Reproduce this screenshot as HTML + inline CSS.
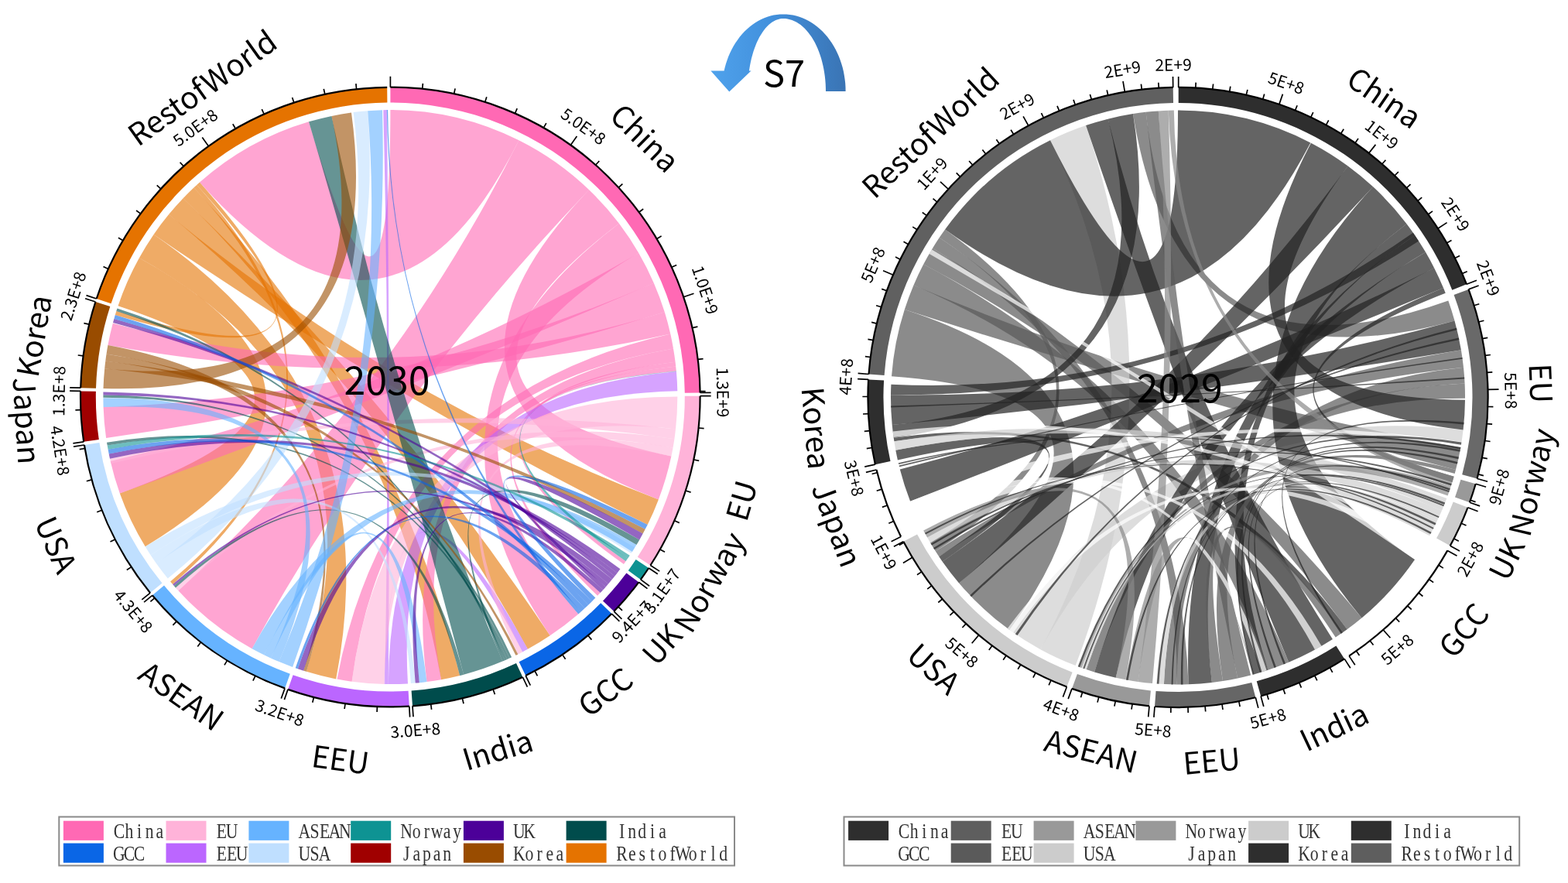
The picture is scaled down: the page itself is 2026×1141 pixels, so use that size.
<!DOCTYPE html>
<html><head><meta charset="utf-8"><style>
html,body{margin:0;padding:0;background:#fff;}
body{width:2026px;height:1141px;overflow:hidden;}
svg{display:block;filter:blur(0.5px);}
.lab,.tl{font-family:"Noto Sans CJK SC","Liberation Sans",sans-serif;fill:#000;}
.leg{font-family:"Liberation Serif","Noto Serif CJK SC",serif;fill:#333;}
</style></head><body>
<svg width="2026" height="1141" viewBox="0 0 2026 1141">
<path d="M152.5,395.3A371,371 0 0 1 179.9,333.2Q504.4,513.0 187.7,706.3A371,371 0 0 1 154.8,637.5Q504.4,513.0 152.5,395.3Z" fill="#E57300" fill-opacity="0.6"/>
<path d="M179.9,333.2A371,371 0 0 1 198.6,302.9Q504.4,513.0 434.2,877.4A371,371 0 0 1 395.9,867.8Q504.4,513.0 179.9,333.2Z" fill="#E57300" fill-opacity="0.6"/>
<path d="M198.6,302.9A371,371 0 0 1 218.1,277.1Q504.4,513.0 850.9,645.4A371,371 0 0 1 836.7,678.0Q504.4,513.0 198.6,302.9Z" fill="#E57300" fill-opacity="0.6"/>
<path d="M218.1,277.1A371,371 0 0 1 236.6,256.3Q504.4,513.0 710.7,821.3A371,371 0 0 1 681.9,838.8Q504.4,513.0 218.1,277.1Z" fill="#E57300" fill-opacity="0.6"/>
<path d="M236.6,256.3A371,371 0 0 1 250.4,242.6Q504.4,513.0 594.1,873.0A371,371 0 0 1 570.0,878.2Q504.4,513.0 236.6,256.3Z" fill="#E57300" fill-opacity="0.6"/>
<path d="M250.4,242.6A371,371 0 0 1 254.2,239.1Q504.4,513.0 223.1,755.0A371,371 0 0 1 220.1,751.5Q504.4,513.0 250.4,242.6Z" fill="#E57300" fill-opacity="0.6"/>
<path d="M254.2,239.1A371,371 0 0 1 258.0,235.6Q504.4,513.0 148.8,407.1A371,371 0 0 1 150.3,402.1Q504.4,513.0 254.2,239.1Z" fill="#E57300" fill-opacity="0.6"/>
<path d="M504.4,142.0A371,371 0 0 1 670.5,181.3Q504.4,513.0 258.0,235.6A371,371 0 0 1 399.0,157.3Q504.4,513.0 504.4,142.0Z" fill="#FF69B4" fill-opacity="0.6"/>
<path d="M670.5,181.3A371,371 0 0 1 761.1,245.3Q504.4,513.0 325.6,838.2A371,371 0 0 1 230.4,763.2Q504.4,513.0 670.5,181.3Z" fill="#FF69B4" fill-opacity="0.6"/>
<path d="M761.1,245.3A371,371 0 0 1 799.9,288.7Q504.4,513.0 867.4,589.6A371,371 0 0 1 850.9,645.4Q504.4,513.0 761.1,245.3Z" fill="#FF69B4" fill-opacity="0.6"/>
<path d="M799.9,288.7A371,371 0 0 1 825.3,327.0Q504.4,513.0 747.3,793.5A371,371 0 0 1 710.7,821.3Q504.4,513.0 799.9,288.7Z" fill="#FF69B4" fill-opacity="0.6"/>
<path d="M825.3,327.0A371,371 0 0 1 844.8,365.7Q504.4,513.0 154.8,637.5A371,371 0 0 1 142.7,595.9Q504.4,513.0 825.3,327.0Z" fill="#FF69B4" fill-opacity="0.6"/>
<path d="M844.8,365.7A371,371 0 0 1 858.8,403.3Q504.4,513.0 137.1,566.0A371,371 0 0 1 133.6,526.0Q504.4,513.0 844.8,365.7Z" fill="#FF69B4" fill-opacity="0.6"/>
<path d="M858.8,403.3A371,371 0 0 1 866.3,431.5Q504.4,513.0 139.4,446.1A371,371 0 0 1 145.8,417.7Q504.4,513.0 858.8,403.3Z" fill="#FF69B4" fill-opacity="0.6"/>
<path d="M866.3,431.5A371,371 0 0 1 870.0,450.5Q504.4,513.0 454.6,880.7A371,371 0 0 1 435.5,877.6Q504.4,513.0 866.3,431.5Z" fill="#FF69B4" fill-opacity="0.6"/>
<path d="M870.0,450.5A371,371 0 0 1 872.6,467.8Q504.4,513.0 570.0,878.2A371,371 0 0 1 551.5,881.0Q504.4,513.0 870.0,450.5Z" fill="#FF69B4" fill-opacity="0.6"/>
<path d="M872.6,467.8A371,371 0 0 1 873.2,473.6Q504.4,513.0 775.7,766.1A371,371 0 0 1 772.1,769.8Q504.4,513.0 872.6,467.8Z" fill="#FF69B4" fill-opacity="0.6"/>
<path d="M873.2,473.6A371,371 0 0 1 873.8,479.4Q504.4,513.0 808.6,725.3A371,371 0 0 1 806.0,729.0Q504.4,513.0 873.2,473.6Z" fill="#FF69B4" fill-opacity="0.6"/>
<path d="M527.0,883.4A371,371 0 0 1 501.8,884.0Q504.4,513.0 873.9,480.1A371,371 0 0 1 875.3,505.3Q504.4,513.0 527.0,883.4Z" fill="#BB66FF" fill-opacity="0.6"/>
<path d="M501.8,884.0A371,371 0 0 1 497.2,884.0Q504.4,513.0 495.3,142.2A371,371 0 0 1 499.8,142.1Q504.4,513.0 501.8,884.0Z" fill="#BB66FF" fill-opacity="0.6"/>
<path d="M497.2,884.0A371,371 0 0 1 496.6,884.0Q504.4,513.0 681.9,838.8A371,371 0 0 1 675.1,842.4Q504.4,513.0 497.2,884.0Z" fill="#BB66FF" fill-opacity="0.6"/>
<path d="M875.3,512.4A371,371 0 0 1 873.0,554.4Q504.4,513.0 496.6,884.0A371,371 0 0 1 454.6,880.7Q504.4,513.0 875.3,512.4Z" fill="#FFB3D9" fill-opacity="0.6"/>
<path d="M873.0,554.4A371,371 0 0 1 871.4,567.2Q504.4,513.0 143.5,599.0A371,371 0 0 1 142.0,592.7Q504.4,513.0 873.0,554.4Z" fill="#FFB3D9" fill-opacity="0.6"/>
<path d="M871.4,567.2A371,371 0 0 1 869.5,578.7Q504.4,513.0 230.4,763.2A371,371 0 0 1 226.9,759.4Q504.4,513.0 871.4,567.2Z" fill="#FFB3D9" fill-opacity="0.6"/>
<path d="M869.5,578.7A371,371 0 0 1 867.4,589.6Q504.4,513.0 675.1,842.4A371,371 0 0 1 669.3,845.4Q504.4,513.0 869.5,578.7Z" fill="#FFB3D9" fill-opacity="0.6"/>
<path d="M649.3,854.6A371,371 0 0 1 599.1,871.7Q504.4,513.0 399.0,157.3A371,371 0 0 1 428.5,149.9Q504.4,513.0 649.3,854.6Z" fill="#004C4C" fill-opacity="0.6"/>
<path d="M661.1,849.3A371,371 0 0 1 658.2,850.6Q504.4,513.0 133.4,513.7A371,371 0 0 1 133.4,510.5Q504.4,513.0 661.1,849.3Z" fill="#004C4C" fill-opacity="0.6"/>
<path d="M658.2,850.6A371,371 0 0 1 655.2,852.0Q504.4,513.0 138.7,575.6A371,371 0 0 1 138.0,571.7Q504.4,513.0 658.2,850.6Z" fill="#004C4C" fill-opacity="0.6"/>
<path d="M655.2,852.0A371,371 0 0 1 652.3,853.3Q504.4,513.0 150.3,402.1A371,371 0 0 1 151.5,398.4Q504.4,513.0 655.2,852.0Z" fill="#004C4C" fill-opacity="0.6"/>
<path d="M652.3,853.3A371,371 0 0 1 649.3,854.6Q504.4,513.0 826.3,697.4A371,371 0 0 1 822.4,704.1Q504.4,513.0 652.3,853.3Z" fill="#004C4C" fill-opacity="0.6"/>
<path d="M599.1,871.7A371,371 0 0 1 594.1,873.0Q504.4,513.0 226.9,759.4A371,371 0 0 1 224.8,756.9Q504.4,513.0 599.1,871.7Z" fill="#004C4C" fill-opacity="0.6"/>
<path d="M133.5,502.0A371,371 0 0 1 135.2,476.2Q504.4,513.0 428.5,149.9A371,371 0 0 1 454.0,145.5Q504.4,513.0 133.5,502.0Z" fill="#994C00" fill-opacity="0.6"/>
<path d="M135.2,476.2A371,371 0 0 1 136.3,466.6Q504.4,513.0 833.7,683.8A371,371 0 0 1 830.7,689.5Q504.4,513.0 135.2,476.2Z" fill="#994C00" fill-opacity="0.6"/>
<path d="M136.3,466.6A371,371 0 0 1 137.5,457.6Q504.4,513.0 669.3,845.4A371,371 0 0 1 666.4,846.8Q504.4,513.0 136.3,466.6Z" fill="#994C00" fill-opacity="0.6"/>
<path d="M137.5,457.6A371,371 0 0 1 139.4,446.1Q504.4,513.0 395.9,867.8A371,371 0 0 1 392.2,866.7Q504.4,513.0 137.5,457.6Z" fill="#994C00" fill-opacity="0.6"/>
<path d="M216.8,747.5A371,371 0 0 1 201.9,728.0Q504.4,513.0 456.6,145.1A371,371 0 0 1 475.2,143.2Q504.4,513.0 216.8,747.5Z" fill="#BFDFFF" fill-opacity="0.6"/>
<path d="M201.9,728.0A371,371 0 0 1 194.6,717.3Q504.4,513.0 536.7,882.6A371,371 0 0 1 530.9,883.1Q504.4,513.0 201.9,728.0Z" fill="#BFDFFF" fill-opacity="0.6"/>
<path d="M194.6,717.3A371,371 0 0 1 187.7,706.3Q504.4,513.0 820.3,707.4A371,371 0 0 1 815.5,715.1Q504.4,513.0 194.6,717.3Z" fill="#BFDFFF" fill-opacity="0.6"/>
<path d="M378.1,861.9A371,371 0 0 1 360.6,855.1Q504.4,513.0 475.2,143.2A371,371 0 0 1 494.0,142.2Q504.4,513.0 378.1,861.9Z" fill="#66B3FF" fill-opacity="0.6"/>
<path d="M360.6,855.1A371,371 0 0 1 349.9,850.4Q504.4,513.0 133.6,526.0A371,371 0 0 1 133.4,514.3Q504.4,513.0 360.6,855.1Z" fill="#66B3FF" fill-opacity="0.6"/>
<path d="M349.9,850.4A371,371 0 0 1 341.1,846.2Q504.4,513.0 551.5,881.0A371,371 0 0 1 541.8,882.2Q504.4,513.0 349.9,850.4Z" fill="#66B3FF" fill-opacity="0.6"/>
<path d="M341.1,846.2A371,371 0 0 1 325.6,838.2Q504.4,513.0 822.4,704.1A371,371 0 0 1 816.9,712.9Q504.4,513.0 341.1,846.2Z" fill="#66B3FF" fill-opacity="0.6"/>
<path d="M801.4,735.3A371,371 0 0 1 797.5,740.4Q504.4,513.0 142.0,592.7A371,371 0 0 1 140.7,586.4Q504.4,513.0 801.4,735.3Z" fill="#4C0099" fill-opacity="0.6"/>
<path d="M797.5,740.4A371,371 0 0 1 794.3,744.5Q504.4,513.0 133.4,510.5A371,371 0 0 1 133.4,506.6Q504.4,513.0 797.5,740.4Z" fill="#4C0099" fill-opacity="0.6"/>
<path d="M794.3,744.5A371,371 0 0 1 791.0,748.5Q504.4,513.0 146.0,417.0A371,371 0 0 1 147.4,412.0Q504.4,513.0 794.3,744.5Z" fill="#4C0099" fill-opacity="0.6"/>
<path d="M791.0,748.5A371,371 0 0 1 786.0,754.5Q504.4,513.0 392.2,866.7A371,371 0 0 1 384.8,864.3Q504.4,513.0 791.0,748.5Z" fill="#4C0099" fill-opacity="0.6"/>
<path d="M786.0,754.5A371,371 0 0 1 782.6,758.4Q504.4,513.0 224.8,756.9A371,371 0 0 1 223.1,755.0Q504.4,513.0 786.0,754.5Z" fill="#4C0099" fill-opacity="0.6"/>
<path d="M782.6,758.4A371,371 0 0 1 779.2,762.3Q504.4,513.0 830.7,689.5A371,371 0 0 1 826.3,697.4Q504.4,513.0 782.6,758.4Z" fill="#4C0099" fill-opacity="0.6"/>
<path d="M779.2,762.3A371,371 0 0 1 775.7,766.1Q504.4,513.0 541.8,882.2A371,371 0 0 1 536.7,882.6Q504.4,513.0 779.2,762.3Z" fill="#4C0099" fill-opacity="0.6"/>
<path d="M769.4,772.6A371,371 0 0 1 764.8,777.2Q504.4,513.0 836.7,678.0A371,371 0 0 1 833.7,683.8Q504.4,513.0 769.4,772.6Z" fill="#0A66E6" fill-opacity="0.6"/>
<path d="M764.8,777.2A371,371 0 0 1 760.2,781.7Q504.4,513.0 140.7,586.4A371,371 0 0 1 139.6,580.7Q504.4,513.0 764.8,777.2Z" fill="#0A66E6" fill-opacity="0.6"/>
<path d="M760.2,781.7A371,371 0 0 1 755.5,786.1Q504.4,513.0 147.4,412.0A371,371 0 0 1 148.8,407.1Q504.4,513.0 760.2,781.7Z" fill="#0A66E6" fill-opacity="0.6"/>
<path d="M755.5,786.1A371,371 0 0 1 750.7,790.5Q504.4,513.0 384.8,864.3A371,371 0 0 1 381.7,863.2Q504.4,513.0 755.5,786.1Z" fill="#0A66E6" fill-opacity="0.6"/>
<path d="M750.7,790.5A371,371 0 0 1 747.3,793.5Q504.4,513.0 499.8,142.1A371,371 0 0 1 501.1,142.1Q504.4,513.0 750.7,790.5Z" fill="#0A66E6" fill-opacity="0.6"/>
<path d="M813.7,717.8A371,371 0 0 1 811.2,721.6Q504.4,513.0 139.6,580.7A371,371 0 0 1 138.7,575.6Q504.4,513.0 813.7,717.8Z" fill="#0E9393" fill-opacity="0.6"/>
<path d="M811.2,721.6A371,371 0 0 1 808.6,725.3Q504.4,513.0 873.8,479.4A371,371 0 0 1 873.9,480.1Q504.4,513.0 811.2,721.6Z" fill="#0E9393" fill-opacity="0.6"/>
<path d="M504.4,112.7A400.3,400.3 0 0 1 904.6,507.5L884.8,507.7A380.5,380.5 0 0 0 504.4,132.5Z" fill="#FF69B4"/>
<path d="M904.6,511.7A400.3,400.3 0 0 1 840.4,730.5L823.8,719.7A380.5,380.5 0 0 0 884.8,511.7Z" fill="#FFB3D9"/>
<path d="M838.2,734.0A400.3,400.3 0 0 1 827.8,748.9L811.8,737.2A380.5,380.5 0 0 0 821.6,723.1Z" fill="#0E9393"/>
<path d="M825.3,752.3A400.3,400.3 0 0 1 793.3,790.1L779.0,776.4A380.5,380.5 0 0 0 809.4,740.4Z" fill="#4C0099"/>
<path d="M790.4,793.1A400.3,400.3 0 0 1 679.2,873.1L670.6,855.3A380.5,380.5 0 0 0 776.2,779.3Z" fill="#0A66E6"/>
<path d="M675.4,875.0A400.3,400.3 0 0 1 533.0,912.3L531.6,892.6A380.5,380.5 0 0 0 667.0,857.1Z" fill="#004C4C"/>
<path d="M528.8,912.6A400.3,400.3 0 0 1 372.0,890.9L378.6,872.2A380.5,380.5 0 0 0 527.6,892.8Z" fill="#BB66FF"/>
<path d="M368.1,889.4A400.3,400.3 0 0 1 196.8,769.3L212.0,756.6A380.5,380.5 0 0 0 374.8,870.8Z" fill="#66B3FF"/>
<path d="M194.1,766.1A400.3,400.3 0 0 1 108.9,575.0L128.4,571.9A380.5,380.5 0 0 0 209.5,753.5Z" fill="#BFDFFF"/>
<path d="M108.2,570.8A400.3,400.3 0 0 1 104.1,505.4L123.9,505.7A380.5,380.5 0 0 0 127.8,568.0Z" fill="#A00000"/>
<path d="M104.2,501.2A400.3,400.3 0 0 1 123.4,390.0L142.3,396.1A380.5,380.5 0 0 0 124.0,501.8Z" fill="#994C00"/>
<path d="M124.7,386.0A400.3,400.3 0 0 1 500.2,112.8L500.4,132.6A380.5,380.5 0 0 0 143.5,392.3Z" fill="#E57300"/>
<path d="M504.4,112.7A400.3,400.3 0 0 1 904.6,507.5" fill="none" stroke="#000" stroke-width="2.2"/>
<path d="M904.6,511.7A400.3,400.3 0 0 1 840.4,730.5" fill="none" stroke="#000" stroke-width="2.2"/>
<path d="M838.2,734.0A400.3,400.3 0 0 1 827.8,748.9" fill="none" stroke="#000" stroke-width="2.2"/>
<path d="M825.3,752.3A400.3,400.3 0 0 1 793.3,790.1" fill="none" stroke="#000" stroke-width="2.2"/>
<path d="M790.4,793.1A400.3,400.3 0 0 1 679.2,873.1" fill="none" stroke="#000" stroke-width="2.2"/>
<path d="M675.4,875.0A400.3,400.3 0 0 1 533.0,912.3" fill="none" stroke="#000" stroke-width="2.2"/>
<path d="M528.8,912.6A400.3,400.3 0 0 1 372.0,890.9" fill="none" stroke="#000" stroke-width="2.2"/>
<path d="M368.1,889.4A400.3,400.3 0 0 1 196.8,769.3" fill="none" stroke="#000" stroke-width="2.2"/>
<path d="M194.1,766.1A400.3,400.3 0 0 1 108.9,575.0" fill="none" stroke="#000" stroke-width="2.2"/>
<path d="M108.2,570.8A400.3,400.3 0 0 1 104.1,505.4" fill="none" stroke="#000" stroke-width="2.2"/>
<path d="M104.2,501.2A400.3,400.3 0 0 1 123.4,390.0" fill="none" stroke="#000" stroke-width="2.2"/>
<path d="M124.7,386.0A400.3,400.3 0 0 1 500.2,112.8" fill="none" stroke="#000" stroke-width="2.2"/>
<path d="M504.4,112.7L504.4,98.7M545.7,114.9L546.4,107.9M586.6,121.3L588.1,114.4M626.7,131.9L628.8,125.2M665.4,146.6L668.2,140.2M702.4,165.2L705.8,159.1M737.3,187.5L745.4,176.1M769.6,213.3L774.3,208.0M799.2,242.3L804.4,237.6M825.6,274.2L831.2,270.0M848.5,308.7L854.6,305.1M867.8,345.3L874.2,342.4M883.2,383.8L896.5,379.3M894.5,423.6L901.4,422.1M901.7,464.4L908.6,463.6M904.6,505.7L911.6,505.6M904.6,507.5L918.6,507.3M904.6,511.7L918.6,511.6M902.6,553.0L909.6,553.7M896.4,594.0L903.2,595.4M885.9,634.0L892.6,636.1M871.4,672.8L877.8,675.6M852.9,709.9L859.0,713.3M840.4,730.5L852.2,738.1M838.2,734.0L849.8,741.7M827.8,748.9L839.1,757.2M825.3,752.3L836.5,760.6M798.9,784.2L804.0,788.9M793.3,790.1L803.4,799.8M790.4,793.1L800.4,802.9M759.9,821.2L764.4,826.6M726.7,845.9L730.6,851.7M691.1,867.1L694.4,873.3M679.2,873.1L685.3,885.7M675.4,875.0L681.4,887.6M637.1,890.7L639.4,897.3M597.4,902.4L599.0,909.2M556.7,909.9L557.6,916.9M533.0,912.3L534.0,926.3M528.8,912.6L529.6,926.6M487.4,913.0L487.1,920.0M446.1,909.1L445.1,916.0M405.5,901.0L403.8,907.7M372.0,890.9L367.4,904.1M368.1,889.4L363.3,902.6M329.9,873.4L326.9,879.7M293.6,853.4L290.0,859.4M259.6,829.8L255.3,835.4M228.2,802.8L223.4,807.9M199.7,772.8L194.4,777.3M196.8,769.3L186.1,778.2M194.1,766.1L183.3,774.9M169.7,732.6L163.8,736.5M148.8,696.9L142.5,700.1M131.7,659.2L125.2,661.7M118.6,619.9L111.8,621.8M109.6,579.5L102.7,580.6M108.9,575.0L95.0,577.1M108.2,570.8L94.4,572.9M104.4,529.6L97.4,529.9M104.1,505.4L90.1,505.1M104.2,501.2L90.2,500.8M107.6,459.9L100.7,459.0M115.2,419.2L108.4,417.6M123.4,390.0L110.1,385.7M124.7,386.0L111.5,381.6M139.9,347.5L133.5,344.6M158.9,310.7L152.9,307.2M181.7,276.1L176.1,272.0M207.9,244.1L202.7,239.4M237.3,214.9L232.6,209.7M269.5,188.9L261.3,177.5M304.3,166.3L300.8,160.3M341.2,147.5L338.3,141.1M379.8,132.6L377.6,126.0M419.8,121.8L418.3,114.9M460.6,115.1L459.9,108.2" stroke="#000" stroke-width="1.7" fill="none"/>
<path d="M1152.0,486.3A371,371 0 0 1 1168.8,400.1Q1522.0,513.5 1304.5,814.0A371,371 0 0 1 1239.1,753.5Q1522.0,513.5 1152.0,486.3Z" fill="#5A5A5A" fill-opacity="0.7"/>
<path d="M1168.8,400.1A371,371 0 0 1 1180.5,368.5Q1522.0,513.5 1887.4,577.9A371,371 0 0 1 1881.0,607.0Q1522.0,513.5 1168.8,400.1Z" fill="#5A5A5A" fill-opacity="0.7"/>
<path d="M1180.5,368.5A371,371 0 0 1 1193.2,341.6Q1522.0,513.5 1665.2,855.8A371,371 0 0 1 1638.5,865.7Q1522.0,513.5 1180.5,368.5Z" fill="#5A5A5A" fill-opacity="0.7"/>
<path d="M1193.2,341.6A371,371 0 0 1 1205.0,320.8Q1522.0,513.5 1759.5,798.5A371,371 0 0 1 1740.6,813.3Q1522.0,513.5 1193.2,341.6Z" fill="#5A5A5A" fill-opacity="0.7"/>
<path d="M1205.0,320.8A371,371 0 0 1 1213.7,307.1Q1522.0,513.5 1535.6,884.3A371,371 0 0 1 1520.7,884.5Q1522.0,513.5 1205.0,320.8Z" fill="#5A5A5A" fill-opacity="0.7"/>
<path d="M1213.7,307.1A371,371 0 0 1 1221.1,296.5Q1522.0,513.5 1208.8,712.3A371,371 0 0 1 1202.0,701.2Q1522.0,513.5 1213.7,307.1Z" fill="#5A5A5A" fill-opacity="0.7"/>
<path d="M1389.7,860.1A371,371 0 0 1 1344.4,839.2Q1522.0,513.5 1357.0,181.2A371,371 0 0 1 1403.1,162.1Q1522.0,513.5 1389.7,860.1Z" fill="#CECECE" fill-opacity="0.7"/>
<path d="M1344.4,839.2A371,371 0 0 1 1304.5,814.0Q1522.0,513.5 1890.6,555.5A371,371 0 0 1 1888.5,570.9Q1522.0,513.5 1344.4,839.2Z" fill="#CECECE" fill-opacity="0.7"/>
<path d="M1871.3,388.4A371,371 0 0 1 1879.5,414.4Q1522.0,513.5 1464.0,147.1A371,371 0 0 1 1480.6,144.8Q1522.0,513.5 1871.3,388.4Z" fill="#5A5A5A" fill-opacity="0.7"/>
<path d="M1152.7,549.1A371,371 0 0 1 1151.0,510.3Q1522.0,513.5 1879.5,414.4A371,371 0 0 1 1887.9,452.3Q1522.0,513.5 1152.7,549.1Z" fill="#222222" fill-opacity="0.7"/>
<path d="M1887.9,452.3A371,371 0 0 1 1891.0,474.7Q1522.0,513.5 1213.3,719.3A371,371 0 0 1 1208.8,712.3Q1522.0,513.5 1887.9,452.3Z" fill="#5A5A5A" fill-opacity="0.7"/>
<path d="M1891.0,474.7A371,371 0 0 1 1892.6,495.4Q1522.0,513.5 1520.7,884.5A371,371 0 0 1 1503.9,884.1Q1522.0,513.5 1891.0,474.7Z" fill="#5A5A5A" fill-opacity="0.7"/>
<path d="M1892.6,495.4A371,371 0 0 1 1893.0,514.8Q1522.0,513.5 1414.1,868.5A371,371 0 0 1 1403.7,865.1Q1522.0,513.5 1892.6,495.4Z" fill="#5A5A5A" fill-opacity="0.7"/>
<path d="M1522.0,142.5A371,371 0 0 1 1693.3,184.4Q1522.0,513.5 1221.1,296.5A371,371 0 0 1 1357.0,181.2Q1522.0,513.5 1522.0,142.5Z" fill="#222222" fill-opacity="0.7"/>
<path d="M1693.9,184.7A371,371 0 0 1 1741.6,214.5Q1522.0,513.5 1893.0,516.7A371,371 0 0 1 1890.6,555.5Q1522.0,513.5 1693.9,184.7Z" fill="#222222" fill-opacity="0.7"/>
<path d="M1741.6,214.5A371,371 0 0 1 1774.1,241.3Q1522.0,513.5 1239.1,753.5A371,371 0 0 1 1217.7,725.8Q1522.0,513.5 1741.6,214.5Z" fill="#222222" fill-opacity="0.7"/>
<path d="M1774.1,241.3A371,371 0 0 1 1817.5,289.2Q1522.0,513.5 1828.1,723.1A371,371 0 0 1 1759.5,798.5Q1522.0,513.5 1774.1,241.3Z" fill="#222222" fill-opacity="0.7"/>
<path d="M1817.5,289.2A371,371 0 0 1 1828.1,303.9Q1522.0,513.5 1638.5,865.7A371,371 0 0 1 1619.9,871.4Q1522.0,513.5 1817.5,289.2Z" fill="#222222" fill-opacity="0.7"/>
<path d="M1828.1,303.9A371,371 0 0 1 1842.0,325.8Q1522.0,513.5 1565.9,881.9A371,371 0 0 1 1535.6,884.3Q1522.0,513.5 1828.1,303.9Z" fill="#222222" fill-opacity="0.7"/>
<path d="M1842.0,325.8A371,371 0 0 1 1853.1,346.2Q1522.0,513.5 1441.7,875.7A371,371 0 0 1 1414.1,868.5Q1522.0,513.5 1842.0,325.8Z" fill="#222222" fill-opacity="0.7"/>
<path d="M1853.1,346.2A371,371 0 0 1 1865.0,372.1Q1522.0,513.5 1176.1,647.7A371,371 0 0 1 1162.8,606.4Q1522.0,513.5 1853.1,346.2Z" fill="#222222" fill-opacity="0.7"/>
<path d="M1865.0,372.1A371,371 0 0 1 1867.7,378.7Q1522.0,513.5 1878.6,615.8A371,371 0 0 1 1876.4,623.2Q1522.0,513.5 1865.0,372.1Z" fill="#222222" fill-opacity="0.7"/>
<path d="M1151.0,510.3A371,371 0 0 1 1151.4,496.7Q1522.0,513.5 1825.9,300.7A371,371 0 0 1 1833.1,311.4Q1522.0,513.5 1151.0,510.3Z" fill="#222222" fill-opacity="0.7"/>
<path d="M1154.7,565.8A371,371 0 0 1 1152.7,549.1Q1522.0,513.5 1431.6,153.7A371,371 0 0 1 1464.0,147.1Q1522.0,513.5 1154.7,565.8Z" fill="#222222" fill-opacity="0.7"/>
<path d="M1155.4,570.3A371,371 0 0 1 1154.7,565.8Q1522.0,513.5 1740.6,813.3A371,371 0 0 1 1733.7,818.1Q1522.0,513.5 1155.4,570.3Z" fill="#222222" fill-opacity="0.7"/>
<path d="M1159.9,594.4A371,371 0 0 1 1157.3,581.7Q1522.0,513.5 1217.7,725.8A371,371 0 0 1 1213.3,719.3Q1522.0,513.5 1159.9,594.4Z" fill="#222222" fill-opacity="0.7"/>
<path d="M1721.9,826.0A371,371 0 0 1 1665.2,855.8Q1522.0,513.5 1403.1,162.1A371,371 0 0 1 1431.6,153.7Q1522.0,513.5 1721.9,826.0Z" fill="#222222" fill-opacity="0.7"/>
<path d="M1869.3,644.0A371,371 0 0 1 1863.0,659.7Q1522.0,513.5 1157.3,581.7A371,371 0 0 1 1155.4,570.3Q1522.0,513.5 1869.3,644.0Z" fill="#CECECE" fill-opacity="0.7"/>
<path d="M1863.0,659.7A371,371 0 0 1 1857.1,672.6Q1522.0,513.5 1202.0,701.2A371,371 0 0 1 1198.1,694.5Q1522.0,513.5 1863.0,659.7Z" fill="#CECECE" fill-opacity="0.7"/>
<path d="M1857.1,672.6A371,371 0 0 1 1852.0,683.1Q1522.0,513.5 1403.7,865.1A371,371 0 0 1 1397.5,863.0Q1522.0,513.5 1857.1,672.6Z" fill="#CECECE" fill-opacity="0.7"/>
<path d="M1852.0,683.1A371,371 0 0 1 1847.1,692.2Q1522.0,513.5 1503.9,884.1A371,371 0 0 1 1494.2,883.5Q1522.0,513.5 1852.0,683.1Z" fill="#CECECE" fill-opacity="0.7"/>
<path d="M1616.1,872.4A371,371 0 0 1 1599.1,876.4Q1522.0,513.5 1480.6,144.8A371,371 0 0 1 1496.8,143.4Q1522.0,513.5 1616.1,872.4Z" fill="#5A5A5A" fill-opacity="0.7"/>
<path d="M1599.1,876.4A371,371 0 0 1 1580.0,879.9Q1522.0,513.5 1881.0,607.0A371,371 0 0 1 1879.7,612.0Q1522.0,513.5 1599.1,876.4Z" fill="#5A5A5A" fill-opacity="0.7"/>
<path d="M1580.0,879.9A371,371 0 0 1 1565.9,881.9Q1522.0,513.5 1733.7,818.1A371,371 0 0 1 1725.7,823.6Q1522.0,513.5 1580.0,879.9Z" fill="#5A5A5A" fill-opacity="0.7"/>
<path d="M1489.0,883.0A371,371 0 0 1 1470.4,880.9Q1522.0,513.5 1496.8,143.4A371,371 0 0 1 1509.7,142.7Q1522.0,513.5 1489.0,883.0Z" fill="#8A8A8A" fill-opacity="0.7"/>
<path d="M1470.4,880.9A371,371 0 0 1 1454.4,878.3Q1522.0,513.5 1619.9,871.4A371,371 0 0 1 1618.6,871.7Q1522.0,513.5 1470.4,880.9Z" fill="#8A8A8A" fill-opacity="0.7"/>
<path d="M1454.4,878.3A371,371 0 0 1 1441.7,875.7Q1522.0,513.5 1198.1,694.5A371,371 0 0 1 1193.2,685.4Q1522.0,513.5 1454.4,878.3Z" fill="#8A8A8A" fill-opacity="0.7"/>
<path d="M1878.6,615.8A371,371 0 0 1 1874.8,628.1Q1522.0,513.5 1509.7,142.7A371,371 0 0 1 1516.8,142.5Q1522.0,513.5 1878.6,615.8Z" fill="#8A8A8A" fill-opacity="0.7"/>
<path d="M1874.8,628.1A371,371 0 0 1 1870.6,640.4Q1522.0,513.5 1397.5,863.0A371,371 0 0 1 1393.9,861.7Q1522.0,513.5 1874.8,628.1Z" fill="#8A8A8A" fill-opacity="0.7"/>
<path d="M1845.2,695.6A371,371 0 0 1 1840.0,704.6Q1522.0,513.5 1154.6,565.1A371,371 0 0 1 1153.6,557.4Q1522.0,513.5 1845.2,695.6Z" fill="#FFFFFF" fill-opacity="0.7"/>
<path d="M1840.0,704.6A371,371 0 0 1 1834.5,713.4Q1522.0,513.5 1309.2,817.4A371,371 0 0 1 1301.8,812.1Q1522.0,513.5 1840.0,704.6Z" fill="#FFFFFF" fill-opacity="0.7"/>
<path d="M1834.5,713.4A371,371 0 0 1 1828.1,723.1Q1522.0,513.5 1200.7,328.0A371,371 0 0 1 1204.0,322.4Q1522.0,513.5 1834.5,713.4Z" fill="#FFFFFF" fill-opacity="0.7"/>
<path d="M1191.1,681.4A371,371 0 0 1 1185.8,670.3Q1522.0,513.5 1707.5,834.8A371,371 0 0 1 1699.0,839.5Q1522.0,513.5 1191.1,681.4Z" fill="#FFFFFF" fill-opacity="0.7"/>
<path d="M1185.8,670.3A371,371 0 0 1 1181.0,659.7Q1522.0,513.5 1636.6,866.3A371,371 0 0 1 1629.2,868.7Q1522.0,513.5 1185.8,670.3Z" fill="#FFFFFF" fill-opacity="0.7"/>
<path d="M1181.0,659.7A371,371 0 0 1 1176.1,647.7Q1522.0,513.5 1888.4,571.5A371,371 0 0 1 1887.4,577.9Q1522.0,513.5 1181.0,659.7Z" fill="#FFFFFF" fill-opacity="0.7"/>
<path d="M1888.4,571.5A371,371 0 0 1 1887.9,574.7Q1522.0,513.5 1395.1,862.1A371,371 0 0 1 1392.7,861.2Q1522.0,513.5 1888.4,571.5Z" fill="#222222" fill-opacity="0.7"/>
<path d="M1886.8,581.1A371,371 0 0 1 1886.3,583.7Q1522.0,513.5 1497.4,883.7A371,371 0 0 1 1494.8,883.5Q1522.0,513.5 1886.8,581.1Z" fill="#222222" fill-opacity="0.7"/>
<path d="M1884.9,590.6A371,371 0 0 1 1884.3,593.2Q1522.0,513.5 1620.5,871.2A371,371 0 0 1 1618.6,871.7Q1522.0,513.5 1884.9,590.6Z" fill="#222222" fill-opacity="0.7"/>
<path d="M1875.8,625.1A371,371 0 0 1 1875.0,627.5Q1522.0,513.5 1204.0,704.6A371,371 0 0 1 1202.7,702.4Q1522.0,513.5 1875.8,625.1Z" fill="#222222" fill-opacity="0.7"/>
<path d="M1872.8,634.3A371,371 0 0 1 1872.2,636.1Q1522.0,513.5 1161.3,600.1A371,371 0 0 1 1160.8,598.2Q1522.0,513.5 1872.8,634.3Z" fill="#222222" fill-opacity="0.7"/>
<path d="M1866.0,652.5A371,371 0 0 1 1865.3,654.3Q1522.0,513.5 1401.2,864.3A371,371 0 0 1 1399.4,863.7Q1522.0,513.5 1866.0,652.5Z" fill="#222222" fill-opacity="0.7"/>
<path d="M1859.6,667.4A371,371 0 0 1 1858.8,669.1Q1522.0,513.5 1515.5,884.4A371,371 0 0 1 1513.6,884.4Q1522.0,513.5 1859.6,667.4Z" fill="#222222" fill-opacity="0.7"/>
<path d="M1852.6,681.9A371,371 0 0 1 1851.7,683.7Q1522.0,513.5 1196.0,690.5A371,371 0 0 1 1195.0,688.8Q1522.0,513.5 1852.6,681.9Z" fill="#222222" fill-opacity="0.7"/>
<path d="M1734.8,817.4A371,371 0 0 1 1732.7,818.9Q1522.0,513.5 1891.6,545.8A371,371 0 0 1 1891.4,548.4Q1522.0,513.5 1734.8,817.4Z" fill="#222222" fill-opacity="0.7"/>
<path d="M1661.0,857.5A371,371 0 0 1 1658.6,858.4Q1522.0,513.5 1873.8,631.2A371,371 0 0 1 1873.0,633.7Q1522.0,513.5 1661.0,857.5Z" fill="#222222" fill-opacity="0.7"/>
<path d="M1648.9,862.1A371,371 0 0 1 1646.5,863.0Q1522.0,513.5 1855.5,676.1A371,371 0 0 1 1854.3,678.5Q1522.0,513.5 1648.9,862.1Z" fill="#222222" fill-opacity="0.7"/>
<path d="M1630.5,868.3A371,371 0 0 1 1628.0,869.0Q1522.0,513.5 1883.5,597.0A371,371 0 0 1 1882.9,599.5Q1522.0,513.5 1630.5,868.3Z" fill="#222222" fill-opacity="0.7"/>
<path d="M1528.5,884.4A371,371 0 0 1 1525.9,884.5Q1522.0,513.5 1867.2,649.5A371,371 0 0 1 1866.2,651.9Q1522.0,513.5 1528.5,884.4Z" fill="#222222" fill-opacity="0.7"/>
<path d="M1457.6,878.9A371,371 0 0 1 1455.0,878.4Q1522.0,513.5 1849.6,687.7A371,371 0 0 1 1848.3,690.0Q1522.0,513.5 1457.6,878.9Z" fill="#222222" fill-opacity="0.7"/>
<path d="M1207.4,710.1A371,371 0 0 1 1206.0,707.9Q1522.0,513.5 1887.4,577.9A371,371 0 0 1 1886.9,580.5Q1522.0,513.5 1207.4,710.1Z" fill="#222222" fill-opacity="0.7"/>
<path d="M1882.0,423.7A371,371 0 0 1 1882.6,426.3Q1522.0,513.5 1314.5,821.1A371,371 0 0 1 1311.9,819.3Q1522.0,513.5 1882.0,423.7Z" fill="#222222" fill-opacity="0.7"/>
<path d="M1884.9,436.4A371,371 0 0 1 1885.4,438.9Q1522.0,513.5 1255.1,771.2A371,371 0 0 1 1253.3,769.3Q1522.0,513.5 1884.9,436.4Z" fill="#222222" fill-opacity="0.7"/>
<path d="M1889.4,461.9A371,371 0 0 1 1889.7,463.8Q1522.0,513.5 1162.0,603.3A371,371 0 0 1 1161.6,601.4Q1522.0,513.5 1889.4,461.9Z" fill="#222222" fill-opacity="0.7"/>
<path d="M1892.1,487.6A371,371 0 0 1 1892.2,489.6Q1522.0,513.5 1151.2,526.4A371,371 0 0 1 1151.2,524.5Q1522.0,513.5 1892.1,487.6Z" fill="#222222" fill-opacity="0.7"/>
<path d="M1522.7,112.9A400.6,400.6 0 0 1 1895.0,367.3L1876.3,374.7A380.5,380.5 0 0 0 1522.7,133.0Z" fill="#2E2E2E"/>
<path d="M1897.5,373.9A400.6,400.6 0 0 1 1908.6,618.5L1889.2,613.3A380.5,380.5 0 0 0 1878.6,380.9Z" fill="#696969"/>
<path d="M1906.7,625.3A400.6,400.6 0 0 1 1898.9,649.2L1880.0,642.4A380.5,380.5 0 0 0 1887.4,619.7Z" fill="#999999"/>
<path d="M1896.5,655.8A400.6,400.6 0 0 1 1873.7,705.3L1856.1,695.6A380.5,380.5 0 0 0 1877.7,648.6Z" fill="#CCCCCC"/>
<path d="M1870.3,711.4A400.6,400.6 0 0 1 1743.1,847.6L1732.0,830.8A380.5,380.5 0 0 0 1852.8,701.4Z" fill="#FFFFFF"/>
<path d="M1737.2,851.4A400.6,400.6 0 0 1 1629.1,899.5L1623.7,880.2A380.5,380.5 0 0 0 1726.4,834.4Z" fill="#2E2E2E"/>
<path d="M1622.3,901.3A400.6,400.6 0 0 1 1492.0,913.0L1493.5,892.9A380.5,380.5 0 0 0 1617.3,881.9Z" fill="#666666"/>
<path d="M1485.0,912.4A400.6,400.6 0 0 1 1385.0,889.9L1391.9,871.1A380.5,380.5 0 0 0 1486.9,892.4Z" fill="#999999"/>
<path d="M1378.4,887.5A400.6,400.6 0 0 1 1167.3,699.7L1185.1,690.4A380.5,380.5 0 0 0 1385.6,868.7Z" fill="#CCCCCC"/>
<path d="M1164.1,693.5A400.6,400.6 0 0 1 1132.5,607.0L1152.0,602.3A380.5,380.5 0 0 0 1182.1,684.5Z" fill="#FFFFFF"/>
<path d="M1130.9,600.2A400.6,400.6 0 0 1 1122.1,490.4L1142.1,491.6A380.5,380.5 0 0 0 1150.5,595.9Z" fill="#2E2E2E"/>
<path d="M1122.5,483.5A400.6,400.6 0 0 1 1515.7,112.9L1516.0,133.0A380.5,380.5 0 0 0 1142.6,485.0Z" fill="#606060"/>
<path d="M1522.7,112.9A400.6,400.6 0 0 1 1895.0,367.3" fill="none" stroke="#000" stroke-width="2.2"/>
<path d="M1897.5,373.9A400.6,400.6 0 0 1 1908.6,618.5" fill="none" stroke="#000" stroke-width="2.2"/>
<path d="M1906.7,625.3A400.6,400.6 0 0 1 1898.9,649.2" fill="none" stroke="#000" stroke-width="2.2"/>
<path d="M1896.5,655.8A400.6,400.6 0 0 1 1873.7,705.3" fill="none" stroke="#000" stroke-width="2.2"/>
<path d="M1870.3,711.4A400.6,400.6 0 0 1 1743.1,847.6" fill="none" stroke="#000" stroke-width="2.2"/>
<path d="M1737.2,851.4A400.6,400.6 0 0 1 1629.1,899.5" fill="none" stroke="#000" stroke-width="2.2"/>
<path d="M1622.3,901.3A400.6,400.6 0 0 1 1492.0,913.0" fill="none" stroke="#000" stroke-width="2.2"/>
<path d="M1485.0,912.4A400.6,400.6 0 0 1 1385.0,889.9" fill="none" stroke="#000" stroke-width="2.2"/>
<path d="M1378.4,887.5A400.6,400.6 0 0 1 1167.3,699.7" fill="none" stroke="#000" stroke-width="2.2"/>
<path d="M1164.1,693.5A400.6,400.6 0 0 1 1132.5,607.0" fill="none" stroke="#000" stroke-width="2.2"/>
<path d="M1130.9,600.2A400.6,400.6 0 0 1 1122.1,490.4" fill="none" stroke="#000" stroke-width="2.2"/>
<path d="M1122.5,483.5A400.6,400.6 0 0 1 1515.7,112.9" fill="none" stroke="#000" stroke-width="2.2"/>
<path d="M1522.7,112.9L1522.7,98.9M1544.8,113.5L1545.2,106.6M1566.8,115.4L1567.6,108.5M1588.7,118.5L1589.8,111.6M1610.3,122.8L1611.9,115.9M1631.7,128.2L1633.7,121.5M1652.8,134.9L1657.4,121.6M1673.5,142.6L1676.1,136.2M1693.7,151.6L1696.7,145.2M1713.4,161.6L1716.7,155.4M1732.5,172.7L1736.2,166.7M1751.0,184.8L1755.0,179.0M1768.7,197.9L1777.4,186.9M1785.8,212.0L1790.4,206.7M1802.0,227.0L1806.9,222.0M1817.4,242.9L1822.5,238.1M1831.8,259.6L1837.2,255.1M1845.4,277.0L1851.0,272.9M1857.9,295.2L1869.6,287.6M1869.4,314.0L1875.5,310.6M1879.9,333.5L1886.1,330.4M1889.3,353.5L1895.7,350.7M1895.0,367.3L1908.0,362.2M1897.5,373.9L1910.6,369.0M1904.6,394.8L1911.3,392.7M1910.6,416.0L1917.4,414.3M1915.3,437.6L1922.2,436.3M1918.9,459.4L1925.9,458.5M1921.3,481.4L1928.3,480.8M1922.5,503.4L1936.5,503.1M1922.4,525.5L1929.4,525.7M1921.1,547.6L1928.1,548.2M1918.7,569.5L1925.6,570.5M1915.0,591.3L1921.8,592.7M1910.1,612.9L1916.9,614.6M1908.6,618.5L1922.1,622.2M1906.7,625.3L1920.1,629.2M1899.9,646.3L1906.6,648.6M1898.9,649.2L1912.1,653.9M1896.5,655.8L1909.6,660.7M1888.1,676.2L1894.5,679.0M1878.6,696.1L1884.8,699.3M1873.7,705.3L1886.0,712.0M1870.3,711.4L1882.5,718.3M1858.9,730.3L1864.8,734.1M1846.4,748.5L1852.1,752.6M1833.0,766.0L1838.4,770.5M1818.6,782.8L1823.8,787.5M1803.3,798.7L1808.2,803.7M1787.1,813.8L1796.4,824.3M1770.2,828.0L1774.5,833.5M1752.5,841.2L1756.5,846.9M1743.1,847.6L1750.8,859.2M1737.2,851.4L1744.8,863.2M1718.3,862.7L1721.7,868.8M1698.7,873.0L1701.8,879.3M1678.7,882.2L1681.4,888.6M1658.1,890.3L1660.5,896.9M1637.1,897.2L1639.1,903.9M1629.1,899.5L1632.8,913.0M1622.3,901.3L1625.8,914.9M1600.8,906.3L1602.1,913.1M1579.0,910.0L1580.0,917.0M1557.1,912.6L1557.7,919.5M1535.0,913.9L1535.2,920.9M1512.9,914.0L1512.8,921.0M1492.0,913.0L1490.9,926.9M1485.0,912.4L1483.7,926.3M1463.1,909.7L1462.0,916.7M1441.3,905.9L1439.9,912.7M1419.8,900.8L1418.0,907.6M1398.6,894.6L1396.5,901.3M1385.0,889.9L1380.2,903.1M1378.4,887.5L1373.4,900.6M1358.0,879.0L1355.2,885.4M1338.1,869.4L1334.9,875.6M1318.8,858.7L1315.2,864.8M1300.1,847.0L1296.2,852.8M1282.0,834.3L1277.8,839.9M1264.7,820.6L1255.7,831.3M1248.2,805.9L1243.4,811.0M1232.5,790.4L1227.4,795.2M1217.7,774.0L1212.3,778.5M1203.8,756.8L1198.2,761.1M1190.8,738.9L1185.0,742.8M1178.9,720.3L1166.9,727.5M1168.0,701.1L1161.8,704.4M1167.3,699.7L1154.9,706.2M1164.1,693.5L1151.6,699.8M1154.7,673.5L1148.3,676.3M1146.5,653.0L1139.9,655.4M1139.4,632.1L1132.7,634.2M1133.4,610.8L1126.6,612.5M1132.5,607.0L1118.9,610.3M1130.9,600.2L1117.2,603.2M1126.7,578.5L1119.8,579.7M1123.7,556.6L1116.8,557.4M1122.0,534.6L1115.0,535.0M1121.4,512.5L1114.4,512.5M1122.1,490.4L1115.1,490.0M1122.1,490.4L1108.1,489.6M1122.5,483.5L1108.6,482.4M1124.8,461.5L1117.9,460.6M1128.3,439.7L1121.4,438.4M1132.9,418.1L1126.1,416.4M1138.8,396.8L1132.1,394.7M1145.8,375.8L1139.2,373.4M1154.0,355.3L1141.1,349.8M1163.2,335.3L1157.0,332.1M1173.6,315.7L1167.5,312.3M1185.0,296.8L1179.2,293.1M1197.5,278.6L1191.8,274.5M1210.9,261.1L1205.5,256.7M1225.3,244.3L1215.0,234.9M1240.6,228.4L1235.7,223.4M1256.8,213.3L1252.1,208.0M1273.7,199.1L1269.4,193.6M1291.4,185.9L1287.4,180.2M1309.8,173.7L1306.1,167.8M1328.9,162.5L1322.1,150.3M1348.5,152.4L1345.5,146.1M1368.7,143.4L1366.0,136.9M1389.3,135.5L1387.0,128.9M1410.4,128.8L1408.4,122.0M1431.7,123.2L1430.2,116.4M1453.4,118.8L1451.0,105.0M1475.3,115.6L1474.4,108.7M1497.3,113.7L1496.8,106.7M1515.7,112.9L1515.5,99.0" stroke="#000" stroke-width="1.7" fill="none"/>
<defs><linearGradient id="ag" x1="0" y1="0" x2="1" y2="0"><stop offset="0" stop-color="#4FA2EC"/><stop offset="0.45" stop-color="#4290DC"/><stop offset="1" stop-color="#3A74B4"/></linearGradient></defs><path d="M1092.6,118.0 L1092.5,112.8 L1092.2,107.6 L1091.6,102.4 L1090.8,97.3 L1089.9,92.2 L1088.7,87.2 L1087.2,82.3 L1085.6,77.5 L1083.8,72.8 L1081.8,68.2 L1079.6,63.8 L1077.2,59.5 L1074.6,55.3 L1071.9,51.4 L1069.0,47.6 L1065.9,44.0 L1062.7,40.6 L1059.4,37.4 L1055.9,34.5 L1052.3,31.7 L1048.6,29.3 L1044.8,27.0 L1040.9,25.0 L1036.9,23.3 L1032.9,21.8 L1028.8,20.6 L1024.6,19.6 L1020.4,18.9 L1016.2,18.5 L1012.0,18.4 L1007.8,18.5 L1003.7,18.9 L999.6,19.6 L995.5,20.6 L991.5,21.8 L987.5,23.3 L983.6,25.0 L979.7,27.0 L976.0,29.3 L972.4,31.7 L968.8,34.5 L965.4,37.4 L962.1,40.6 L958.9,44.0 L955.9,47.6 L953.1,51.4 L950.4,55.3 L947.8,59.5 L945.5,63.8 L943.3,68.2 L941.3,72.8 L939.6,77.5 L938.0,82.3 L936.6,87.2 L935.6,91.4 L918.4,91.4 L942.3,118.6 L970.5,91.4 L967.9,91.4 L968.3,89.0 L969.1,84.3 L970.0,79.8 L971.0,75.3 L972.2,71.0 L973.4,66.8 L974.8,62.7 L976.3,58.8 L977.8,55.1 L979.5,51.5 L981.2,48.1 L983.1,44.9 L985.0,42.0 L986.9,39.2 L989.0,36.6 L991.1,34.2 L993.3,32.1 L995.5,30.2 L997.8,28.6 L1000.1,27.2 L1002.4,26.1 L1004.8,25.2 L1007.2,24.5 L1009.6,24.1 L1012.0,24.0 L1014.9,24.1 L1017.7,24.5 L1020.6,25.2 L1023.4,26.1 L1026.2,27.2 L1029.0,28.6 L1031.7,30.2 L1034.4,32.1 L1037.0,34.2 L1039.5,36.6 L1042.0,39.2 L1044.3,42.0 L1046.6,44.9 L1048.8,48.1 L1050.9,51.5 L1052.9,55.1 L1054.7,58.8 L1056.5,62.7 L1058.1,66.8 L1059.6,71.0 L1061.0,75.3 L1062.2,79.8 L1063.3,84.3 L1064.3,89.0 L1065.1,93.7 L1065.8,98.5 L1066.3,103.3 L1066.7,108.2 L1066.9,113.1 L1067.0,118.0 Z" fill="url(#ag)"/><text class="lab" x="1013" y="91" font-size="47" text-anchor="middle" dominant-baseline="central">S7</text>
<text class="lab" x="835.0" y="176.5" font-size="39" text-anchor="middle" dominant-baseline="central" transform="rotate(44.5 835.0 176.5)">China</text>
<text class="lab" x="955.6" y="646.3" font-size="39" text-anchor="middle" dominant-baseline="central" transform="rotate(-73.6 955.6 646.3)">EU</text>
<text class="lab" x="914.1" y="751.0" font-size="39" text-anchor="middle" dominant-baseline="central" transform="rotate(-60.0 914.1 751.0)">Norway</text>
<text class="lab" x="853.4" y="831.0" font-size="39" text-anchor="middle" dominant-baseline="central" transform="rotate(-48.0 853.4 831.0)">UK</text>
<text class="lab" x="780.7" y="892.1" font-size="39" text-anchor="middle" dominant-baseline="central" transform="rotate(-36.3 780.7 892.1)">GCC</text>
<text class="lab" x="642.2" y="966.7" font-size="39" text-anchor="middle" dominant-baseline="central" transform="rotate(-16.8 642.2 966.7)">India</text>
<text class="lab" x="440.2" y="979.0" font-size="39" text-anchor="middle" dominant-baseline="central" transform="rotate(7.9 440.2 979.0)">EEU</text>
<text class="lab" x="236.0" y="897.3" font-size="39" text-anchor="middle" dominant-baseline="central" transform="rotate(35.0 236.0 897.3)">ASEAN</text>
<text class="lab" x="74.7" y="702.9" font-size="39" text-anchor="middle" dominant-baseline="central" transform="rotate(66.0 74.7 702.9)">USA</text>
<text class="lab" x="36.9" y="543.5" font-size="39" text-anchor="middle" dominant-baseline="central" transform="rotate(86.4 36.9 543.5)">Japan</text>
<text class="lab" x="41.4" y="433.9" font-size="39" text-anchor="middle" dominant-baseline="central" transform="rotate(-80.3 41.4 433.9)">Korea</text>
<text class="lab" x="259.9" y="111.3" font-size="39" text-anchor="middle" dominant-baseline="central" transform="rotate(-35.5 259.9 111.3)">RestofWorld</text>
<text class="tl" x="754.6" y="162.2" font-size="21" text-anchor="middle" dominant-baseline="central" transform="rotate(35.5 754.6 162.2)">5.0E+8</text>
<text class="tl" x="912.4" y="374.2" font-size="21" text-anchor="middle" dominant-baseline="central" transform="rotate(71.2 912.4 374.2)">1.0E+9</text>
<text class="tl" x="935.3" y="507.0" font-size="21" text-anchor="middle" dominant-baseline="central" transform="rotate(89.2 935.3 507.0)">1.3E+9</text>
<text class="tl" x="854.2" y="762.8" font-size="21" text-anchor="middle" dominant-baseline="central" transform="rotate(-54.5 854.2 762.8)">3.1E+7</text>
<text class="tl" x="815.6" y="802.5" font-size="21" text-anchor="middle" dominant-baseline="central" transform="rotate(-47.0 815.6 802.5)">9.4E+7</text>
<text class="tl" x="536.6" y="942.3" font-size="21" text-anchor="middle" dominant-baseline="central" transform="rotate(-4.3 536.6 942.3)">3.0E+8</text>
<text class="tl" x="361.9" y="919.8" font-size="21" text-anchor="middle" dominant-baseline="central" transform="rotate(19.3 361.9 919.8)">3.2E+8</text>
<text class="tl" x="173.2" y="788.9" font-size="21" text-anchor="middle" dominant-baseline="central" transform="rotate(50.2 173.2 788.9)">4.3E+8</text>
<text class="tl" x="78.9" y="582.0" font-size="21" text-anchor="middle" dominant-baseline="central" transform="rotate(80.8 78.9 582.0)">4.2E+8</text>
<text class="tl" x="74.9" y="505.3" font-size="21" text-anchor="middle" dominant-baseline="central" transform="rotate(-88.9 74.9 505.3)">1.3E+8</text>
<text class="tl" x="93.4" y="382.2" font-size="21" text-anchor="middle" dominant-baseline="central" transform="rotate(-72.1 93.4 382.2)">2.3E+8</text>
<text class="tl" x="251.6" y="163.9" font-size="21" text-anchor="middle" dominant-baseline="central" transform="rotate(-35.9 251.6 163.9)">5.0E+8</text>
<text class="lab" x="1790.1" y="124.1" font-size="39" text-anchor="middle" dominant-baseline="central" transform="rotate(34.5 1790.1 124.1)">China</text>
<text class="lab" x="1993.6" y="495.3" font-size="39" text-anchor="middle" dominant-baseline="central" transform="rotate(87.7 1993.6 495.3)">EU</text>
<text class="lab" x="1976.4" y="622.7" font-size="39" text-anchor="middle" dominant-baseline="central" transform="rotate(-76.7 1976.4 622.7)">Norway</text>
<text class="lab" x="1944.4" y="721.3" font-size="39" text-anchor="middle" dominant-baseline="central" transform="rotate(-64.1 1944.4 721.3)">UK</text>
<text class="lab" x="1889.3" y="812.8" font-size="39" text-anchor="middle" dominant-baseline="central" transform="rotate(-51.1 1889.3 812.8)">GCC</text>
<text class="lab" x="1722.8" y="936.9" font-size="39" text-anchor="middle" dominant-baseline="central" transform="rotate(-25.2 1722.8 936.9)">India</text>
<text class="lab" x="1565.3" y="980.7" font-size="39" text-anchor="middle" dominant-baseline="central" transform="rotate(-5.2 1565.3 980.7)">EEU</text>
<text class="lab" x="1410.5" y="968.0" font-size="39" text-anchor="middle" dominant-baseline="central" transform="rotate(14.1 1410.5 968.0)">ASEAN</text>
<text class="lab" x="1208.3" y="862.3" font-size="39" text-anchor="middle" dominant-baseline="central" transform="rotate(42.0 1208.3 862.3)">USA</text>
<text class="lab" x="1083.7" y="677.0" font-size="39" text-anchor="middle" dominant-baseline="central" transform="rotate(69.4 1083.7 677.0)">Japan</text>
<text class="lab" x="1056.9" y="553.1" font-size="39" text-anchor="middle" dominant-baseline="central" transform="rotate(85.2 1056.9 553.1)">Korea</text>
<text class="lab" x="1200.3" y="169.6" font-size="39" text-anchor="middle" dominant-baseline="central" transform="rotate(-43.0 1200.3 169.6)">RestofWorld</text>
<text class="tl" x="1662.3" y="106.0" font-size="21" text-anchor="middle" dominant-baseline="central" transform="rotate(19.0 1662.3 106.0)">5E+8</text>
<text class="tl" x="1786.2" y="172.9" font-size="21" text-anchor="middle" dominant-baseline="central" transform="rotate(37.8 1786.2 172.9)">1E+9</text>
<text class="tl" x="1881.8" y="276.2" font-size="21" text-anchor="middle" dominant-baseline="central" transform="rotate(56.6 1881.8 276.2)">2E+9</text>
<text class="tl" x="1924.4" y="359.0" font-size="21" text-anchor="middle" dominant-baseline="central" transform="rotate(69.0 1924.4 359.0)">2E+9</text>
<text class="tl" x="1953.4" y="504.7" font-size="21" text-anchor="middle" dominant-baseline="central" transform="rotate(88.7 1953.4 504.7)">5E+8</text>
<text class="tl" x="1935.6" y="628.9" font-size="21" text-anchor="middle" dominant-baseline="central" transform="rotate(-74.4 1935.6 628.9)">9E+8</text>
<text class="tl" x="1898.5" y="721.7" font-size="21" text-anchor="middle" dominant-baseline="central" transform="rotate(-61.0 1898.5 721.7)">2E+8</text>
<text class="tl" x="1804.5" y="838.2" font-size="21" text-anchor="middle" dominant-baseline="central" transform="rotate(-41.0 1804.5 838.2)">5E+8</text>
<text class="tl" x="1637.9" y="927.3" font-size="21" text-anchor="middle" dominant-baseline="central" transform="rotate(-15.6 1637.9 927.3)">5E+8</text>
<text class="tl" x="1490.0" y="942.1" font-size="21" text-anchor="middle" dominant-baseline="central" transform="rotate(4.4 1490.0 942.1)">5E+8</text>
<text class="tl" x="1371.7" y="915.9" font-size="21" text-anchor="middle" dominant-baseline="central" transform="rotate(20.6 1371.7 915.9)">4E+8</text>
<text class="tl" x="1243.7" y="842.0" font-size="21" text-anchor="middle" dominant-baseline="central" transform="rotate(40.5 1243.7 842.0)">5E+8</text>
<text class="tl" x="1143.2" y="713.2" font-size="21" text-anchor="middle" dominant-baseline="central" transform="rotate(62.4 1143.2 713.2)">1E+9</text>
<text class="tl" x="1104.9" y="617.5" font-size="21" text-anchor="middle" dominant-baseline="central" transform="rotate(76.1 1104.9 617.5)">3E+8</text>
<text class="tl" x="1091.8" y="486.7" font-size="21" text-anchor="middle" dominant-baseline="central" transform="rotate(-86.5 1091.8 486.7)">4E+8</text>
<text class="tl" x="1126.7" y="341.6" font-size="21" text-anchor="middle" dominant-baseline="central" transform="rotate(-66.5 1126.7 341.6)">5E+8</text>
<text class="tl" x="1203.2" y="223.4" font-size="21" text-anchor="middle" dominant-baseline="central" transform="rotate(-47.7 1203.2 223.4)">1E+9</text>
<text class="tl" x="1313.7" y="136.2" font-size="21" text-anchor="middle" dominant-baseline="central" transform="rotate(-28.9 1313.7 136.2)">2E+9</text>
<text class="tl" x="1450.1" y="88.5" font-size="21" text-anchor="middle" dominant-baseline="central" transform="rotate(-9.6 1450.1 88.5)">2E+9</text>
<text class="tl" x="1516.0" y="82.5" font-size="21" text-anchor="middle" dominant-baseline="central" transform="rotate(-0.8 1516.0 82.5)">2E+9</text>
<text class="lab" x="499.9" y="487.8" font-size="50" text-anchor="middle" dominant-baseline="central">2030</text>
<text class="lab" x="1524.3" y="498.2" font-size="50" text-anchor="middle" dominant-baseline="central">2029</text>
<rect x="76.3" y="1055.5" width="872.7" height="63" fill="#fff" stroke="#8a8a8a" stroke-width="2"/>
<rect x="81.9" y="1060.7" width="52" height="25.2" fill="#FF69B4"/>
<text class="leg" transform="translate(153.9 1083.0) scale(0.82 1)" x="0.00 15.98 31.95 47.93 63.90" y="0" font-size="26.5" text-anchor="middle">China</text>
<rect x="81.9" y="1089.6" width="52" height="25.2" fill="#0A66E6"/>
<text class="leg" transform="translate(153.9 1111.9) scale(0.82 1)" x="0.00 15.98 31.95" y="0" font-size="26.5" text-anchor="middle">GCC</text>
<rect x="214.5" y="1060.7" width="52" height="25.2" fill="#FFB3D9"/>
<text class="leg" transform="translate(286.5 1083.0) scale(0.82 1)" x="0.00 15.98" y="0" font-size="26.5" text-anchor="middle">EU</text>
<rect x="214.5" y="1089.6" width="52" height="25.2" fill="#BB66FF"/>
<text class="leg" transform="translate(286.5 1111.9) scale(0.82 1)" x="0.00 15.98 31.95" y="0" font-size="26.5" text-anchor="middle">EEU</text>
<rect x="321.4" y="1060.7" width="52" height="25.2" fill="#66B3FF"/>
<text class="leg" transform="translate(393.4 1083.0) scale(0.82 1)" x="0.00 15.98 31.95 47.93 63.90" y="0" font-size="26.5" text-anchor="middle">ASEAN</text>
<rect x="321.4" y="1089.6" width="52" height="25.2" fill="#BFDFFF"/>
<text class="leg" transform="translate(393.4 1111.9) scale(0.82 1)" x="0.00 15.98 31.95" y="0" font-size="26.5" text-anchor="middle">USA</text>
<rect x="453.2" y="1060.7" width="52" height="25.2" fill="#0E9393"/>
<text class="leg" transform="translate(525.2 1083.0) scale(0.82 1)" x="0.00 15.98 31.95 47.93 63.90 79.88" y="0" font-size="26.5" text-anchor="middle">Norway</text>
<rect x="453.2" y="1089.6" width="52" height="25.2" fill="#A00000"/>
<text class="leg" transform="translate(525.2 1111.9) scale(0.82 1)" x="0.00 15.98 31.95 47.93 63.90" y="0" font-size="26.5" text-anchor="middle">Japan</text>
<rect x="598.9" y="1060.7" width="52" height="25.2" fill="#4C0099"/>
<text class="leg" transform="translate(670.9 1083.0) scale(0.82 1)" x="0.00 15.98" y="0" font-size="26.5" text-anchor="middle">UK</text>
<rect x="598.9" y="1089.6" width="52" height="25.2" fill="#994C00"/>
<text class="leg" transform="translate(670.9 1111.9) scale(0.82 1)" x="0.00 15.98 31.95 47.93 63.90" y="0" font-size="26.5" text-anchor="middle">Korea</text>
<rect x="731.6" y="1060.7" width="52" height="25.2" fill="#004C4C"/>
<text class="leg" transform="translate(803.6 1083.0) scale(0.82 1)" x="0.00 15.98 31.95 47.93 63.90" y="0" font-size="26.5" text-anchor="middle">India</text>
<rect x="731.6" y="1089.6" width="52" height="25.2" fill="#E57300"/>
<text class="leg" transform="translate(803.6 1111.9) scale(0.82 1)" x="0.00 15.98 31.95 47.93 63.90 79.88 95.85 111.83 127.80 143.78 159.76" y="0" font-size="26.5" text-anchor="middle">RestofWorld</text>
<rect x="1090.5" y="1055.5" width="872.7" height="63" fill="#fff" stroke="#8a8a8a" stroke-width="2"/>
<rect x="1096.1" y="1060.7" width="52" height="25.2" fill="#2E2E2E"/>
<text class="leg" transform="translate(1168.1 1083.0) scale(0.82 1)" x="0.00 15.98 31.95 47.93 63.90" y="0" font-size="26.5" text-anchor="middle">China</text>
<text class="leg" transform="translate(1168.1 1111.9) scale(0.82 1)" x="0.00 15.98 31.95" y="0" font-size="26.5" text-anchor="middle">GCC</text>
<rect x="1228.7" y="1060.7" width="52" height="25.2" fill="#5E5E5E"/>
<text class="leg" transform="translate(1300.7 1083.0) scale(0.82 1)" x="0.00 15.98" y="0" font-size="26.5" text-anchor="middle">EU</text>
<rect x="1228.7" y="1089.6" width="52" height="25.2" fill="#5A5A5A"/>
<text class="leg" transform="translate(1300.7 1111.9) scale(0.82 1)" x="0.00 15.98 31.95" y="0" font-size="26.5" text-anchor="middle">EEU</text>
<rect x="1335.6" y="1060.7" width="52" height="25.2" fill="#999999"/>
<text class="leg" transform="translate(1407.6 1083.0) scale(0.82 1)" x="0.00 15.98 31.95 47.93 63.90" y="0" font-size="26.5" text-anchor="middle">ASEAN</text>
<rect x="1335.6" y="1089.6" width="52" height="25.2" fill="#CCCCCC"/>
<text class="leg" transform="translate(1407.6 1111.9) scale(0.82 1)" x="0.00 15.98 31.95" y="0" font-size="26.5" text-anchor="middle">USA</text>
<rect x="1467.4" y="1060.7" width="52" height="25.2" fill="#999999"/>
<text class="leg" transform="translate(1539.4 1083.0) scale(0.82 1)" x="0.00 15.98 31.95 47.93 63.90 79.88" y="0" font-size="26.5" text-anchor="middle">Norway</text>
<text class="leg" transform="translate(1539.4 1111.9) scale(0.82 1)" x="0.00 15.98 31.95 47.93 63.90" y="0" font-size="26.5" text-anchor="middle">Japan</text>
<rect x="1613.1" y="1060.7" width="52" height="25.2" fill="#CCCCCC"/>
<text class="leg" transform="translate(1685.1 1083.0) scale(0.82 1)" x="0.00 15.98" y="0" font-size="26.5" text-anchor="middle">UK</text>
<rect x="1613.1" y="1089.6" width="52" height="25.2" fill="#2E2E2E"/>
<text class="leg" transform="translate(1685.1 1111.9) scale(0.82 1)" x="0.00 15.98 31.95 47.93 63.90" y="0" font-size="26.5" text-anchor="middle">Korea</text>
<rect x="1745.8" y="1060.7" width="52" height="25.2" fill="#2E2E2E"/>
<text class="leg" transform="translate(1817.8 1083.0) scale(0.82 1)" x="0.00 15.98 31.95 47.93 63.90" y="0" font-size="26.5" text-anchor="middle">India</text>
<rect x="1745.8" y="1089.6" width="52" height="25.2" fill="#5E5E5E"/>
<text class="leg" transform="translate(1817.8 1111.9) scale(0.82 1)" x="0.00 15.98 31.95 47.93 63.90 79.88 95.85 111.83 127.80 143.78 159.76" y="0" font-size="26.5" text-anchor="middle">RestofWorld</text>
</svg>
</body></html>
